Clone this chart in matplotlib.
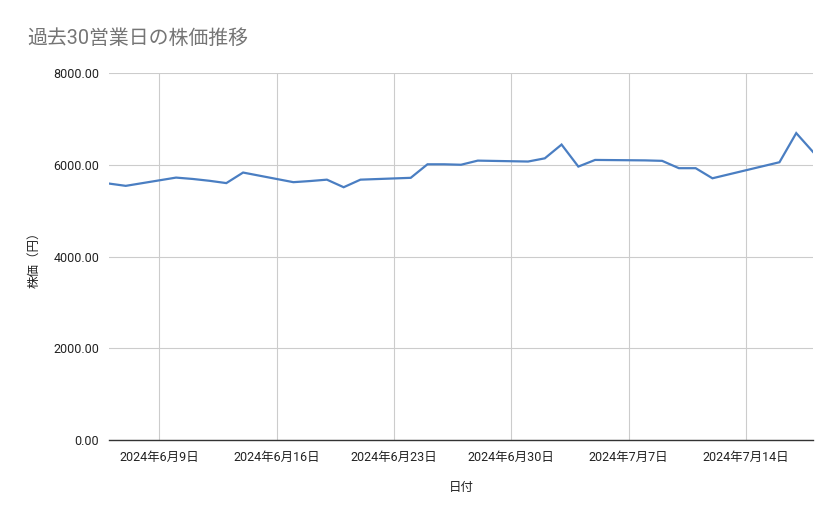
import matplotlib
matplotlib.use("Agg")
import matplotlib.pyplot as plt
import matplotlib.dates as mdates
from matplotlib.ticker import FuncFormatter, MultipleLocator
import pandas as pd

plt.rcParams['font.family'] = ['Roboto', 'Noto Sans CJK JP', 'DejaVu Sans']

dates = ["2024-06-06", "2024-06-07", "2024-06-10", "2024-06-11", "2024-06-12",
         "2024-06-13", "2024-06-14", "2024-06-17", "2024-06-18", "2024-06-19",
         "2024-06-20", "2024-06-21", "2024-06-24", "2024-06-25", "2024-06-26",
         "2024-06-27", "2024-06-28", "2024-07-01", "2024-07-02", "2024-07-03",
         "2024-07-04", "2024-07-05", "2024-07-08", "2024-07-09", "2024-07-10",
         "2024-07-11", "2024-07-12", "2024-07-16", "2024-07-17", "2024-07-18"]
prices = [5590, 5540, 5720, 5690, 5650,
          5600, 5830, 5620, 5645, 5675,
          5510, 5675, 5715, 6010, 6010,
          6000, 6090, 6070, 6140, 6440,
          5960, 6105, 6095, 6085, 5925,
          5925, 5705, 6055, 6690, 6280]
tick_dates = ["2024-06-09", "2024-06-16", "2024-06-23", "2024-06-30",
              "2024-07-07", "2024-07-14"]
title = "過去30営業日の株価推移"
xlabel = "日付"
ylabel = "株価（円）"

x = pd.to_datetime(dates)
ticks = pd.to_datetime(tick_dates)

fig = plt.figure(figsize=(8.39, 5.19), dpi=100)
ax = fig.add_axes([109/839, 1-440/519, (813-109)/839, (440-73)/519])

ax.plot(x, prices, color='#4a7ec2', linewidth=1.6, solid_joinstyle='miter')

ax.set_xlim(x[0], x[-1])
ax.set_ylim(0, 8000)
ax.yaxis.set_major_locator(MultipleLocator(2000))
ax.yaxis.set_major_formatter(FuncFormatter(lambda v, p: f"{v:.2f}"))
ax.set_xticks(mdates.date2num(ticks))
ax.xaxis.set_major_formatter(FuncFormatter(
    lambda v, p: (lambda d: f"{d.year}年{d.month}月{d.day}日")(mdates.num2date(v))))

ax.grid(True, color='#cccccc', linewidth=0.8)
ax.set_axisbelow(True)
for s in ['top', 'right', 'left']:
    ax.spines[s].set_visible(False)
ax.spines['bottom'].set_color('#333333')
ax.spines['bottom'].set_linewidth(1.0)
ax.spines['bottom'].set_zorder(3)
ax.tick_params(axis='both', length=0, labelsize=9, colors='#222222')
ax.tick_params(axis='y', pad=7)
ax.tick_params(axis='x', pad=8)

ax.set_xlabel(xlabel, fontsize=9, color='#222222', labelpad=12)
ax.set_ylabel(ylabel, fontsize=9, color='#222222', labelpad=9)

fig.text(27/839, 1-38/519, title, fontsize=14.3, color='#757575', va='center', ha='left')

fig.savefig("out.png", dpi=100)
